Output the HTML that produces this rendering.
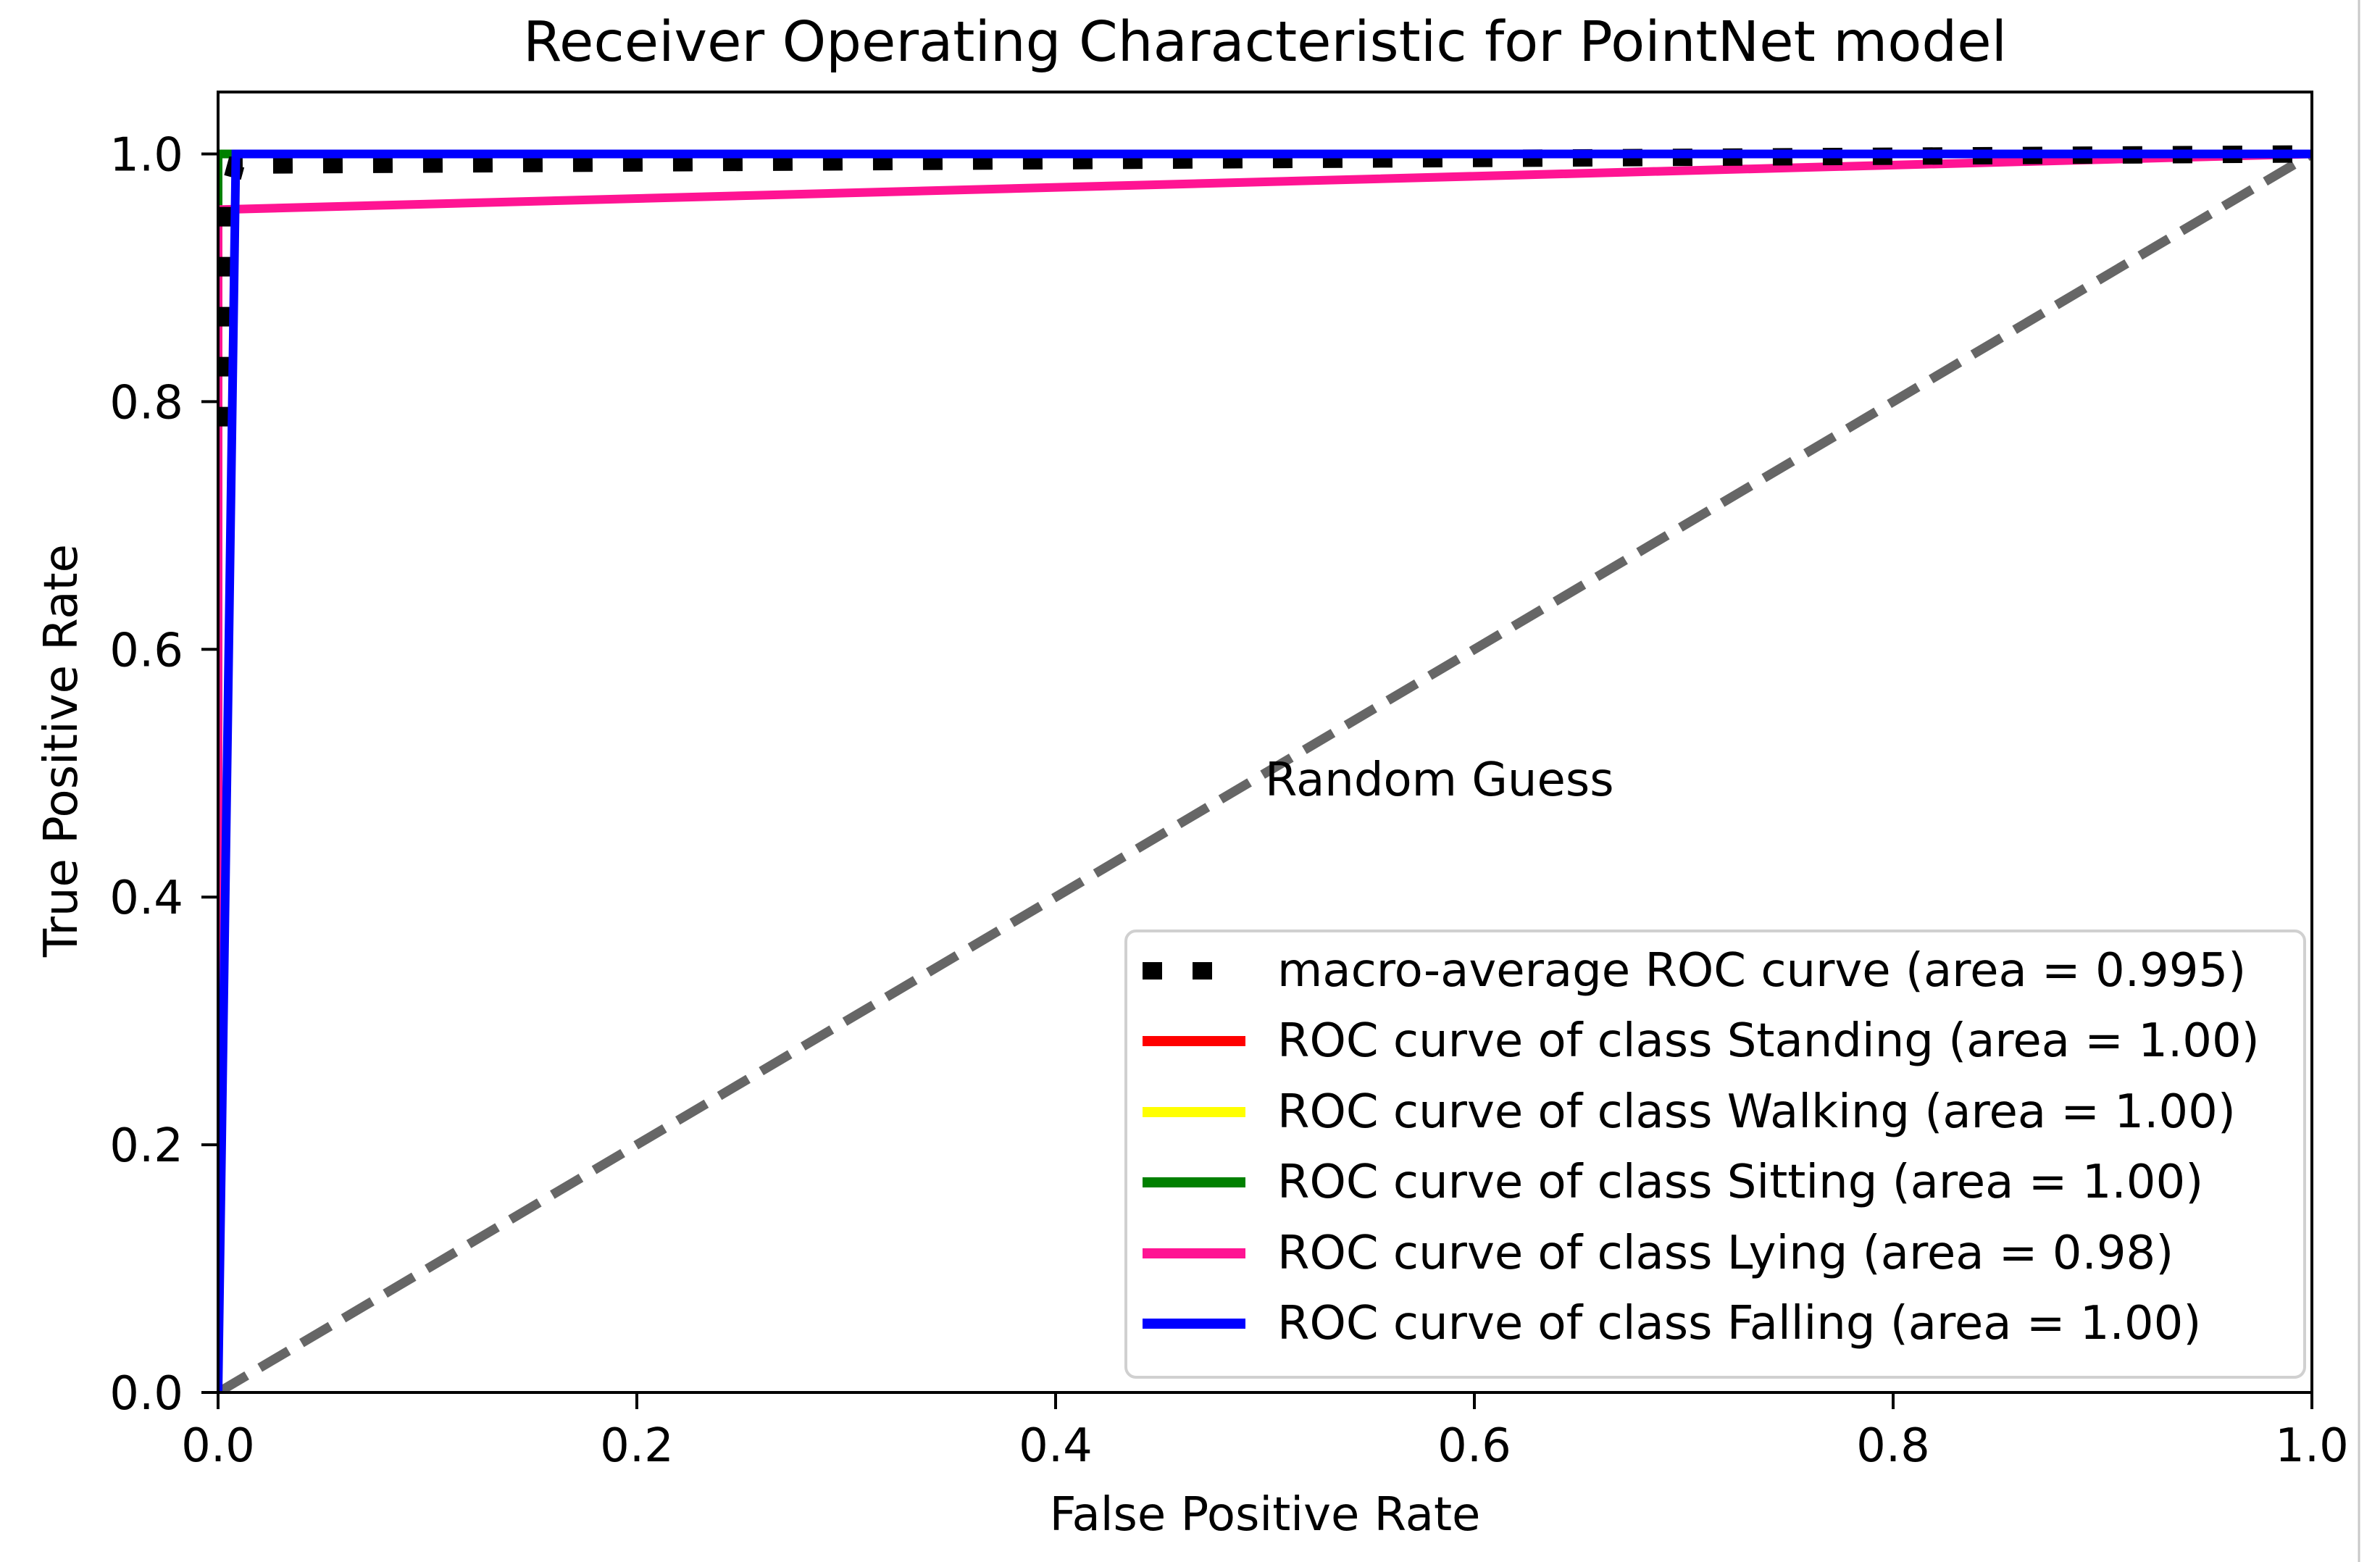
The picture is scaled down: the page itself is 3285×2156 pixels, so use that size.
<!DOCTYPE html>
<html><head><meta charset="utf-8"><style>
html,body{margin:0;padding:0;background:#fff;width:3285px;height:2156px;overflow:hidden}
svg{display:block}
text{font-family:"DejaVu Sans","Liberation Sans",sans-serif;fill:#000}
</style></head><body>
<svg id="chart" width="3285" height="2156" viewBox="0 0 3285 2156" xmlns="http://www.w3.org/2000/svg">
<rect x="0" y="0" width="3285" height="2156" fill="#fff"/>
<line x1="3256" y1="0" x2="3256" y2="2156" stroke="#c8c8c8" stroke-width="3"/>
<g id="plot"></g>
</svg>
<script>
const xTicks = [0, 0.2, 0.4, 0.6, 0.8, 1.0];
const xTickLabels = ["0.0", "0.2", "0.4", "0.6", "0.8", "1.0"];
const yTicks = [0, 0.2, 0.4, 0.6, 0.8, 1.0];
const yTickLabels = ["0.0", "0.2", "0.4", "0.6", "0.8", "1.0"];
const diagX = [0, 1];
const diagY = [0, 1];
const standingX = [0, 0, 1];
const standingY = [0, 1, 1];
const walkingX = [0, 0, 1];
const walkingY = [0, 1, 1];
const sittingX = [0, 0, 1];
const sittingY = [0, 1, 1];
const lyingX = [0, 0, 1];
const lyingY = [0, 0.955, 1];
const fallingX = [0, 0.0085, 1];
const fallingY = [0, 1, 1];
const macroX = [0.0035, 0.0035, 0.0085, 1];
const macroY = [0.78, 0.96, 0.991, 1];
const legendLabels = ["macro-average ROC curve (area = 0.995)","ROC curve of class Standing (area = 1.00)","ROC curve of class Walking (area = 1.00)","ROC curve of class Sitting (area = 1.00)","ROC curve of class Lying (area = 0.98)","ROC curve of class Falling (area = 1.00)"];

const L=301,R=3191,B=1922,T=127;
const X=v=>L+v*(R-L)/1.0;
const Y=v=>B-v*(B-T)/1.05;
const NS="http://www.w3.org/2000/svg";
const g=document.getElementById('plot');
function mk(tag,attrs,parent){const e=document.createElementNS(NS,tag);for(const k in attrs)e.setAttribute(k,attrs[k]);(parent||g).appendChild(e);return e;}
function pts(xs,ys){return xs.map((x,i)=>X(x).toFixed(1)+','+Y(ys[i]).toFixed(1)).join(' ');}

const defs=mk('defs',{});
const cp=mk('clipPath',{id:'clip'},defs);
mk('rect',{x:L,y:T,width:R-L,height:B-T},cp);
const cg=mk('g',{'clip-path':'url(#clip)'});

let e;
e=mk('polyline',{points:pts(diagX,diagY),fill:'none',stroke:'#666','stroke-width':13,'stroke-dasharray':'46 21'},cg);


e=mk('polyline',{points:pts(standingX,standingY),fill:'none',stroke:'#ff0000','stroke-width':12},cg);


e=mk('polyline',{points:pts(walkingX,walkingY),fill:'none',stroke:'#ffff00','stroke-width':12},cg);


e=mk('polyline',{points:pts(sittingX,sittingY),fill:'none',stroke:'#008000','stroke-width':12},cg);


e=mk('polyline',{points:pts(lyingX,lyingY),fill:'none',stroke:'#ff1493','stroke-width':12},cg);


e=mk('polyline',{points:pts(macroX,macroY),fill:'none',stroke:'#000','stroke-width':24,'stroke-dasharray':'27 42'},cg);


e=mk('polyline',{points:pts(fallingX,fallingY),fill:'none',stroke:'#0000ff','stroke-width':12},cg);



e=mk('text',{x:X(0.5),y:Y(0.482),'font-size':64});
e.textContent='Random Guess';



e=mk('rect',{x:L,y:T,width:R-L,height:B-T,fill:'none',stroke:'#000','stroke-width':4});



xTicks.forEach((v,i)=>{
  const t=mk('line',{x1:X(v),y1:B,x2:X(v),y2:B+23,stroke:'#000','stroke-width':4});
  
  
  const l=mk('text',{x:X(v),y:2017,'font-size':64,'text-anchor':'middle'});
  l.textContent=xTickLabels[i];
  
  
});
yTicks.forEach((v,i)=>{
  const t=mk('line',{x1:L-23,y1:Y(v),x2:L,y2:Y(v),stroke:'#000','stroke-width':4});
  
  
  const l=mk('text',{x:253,y:Y(v)+23,'font-size':64,'text-anchor':'end'});
  l.textContent=yTickLabels[i];
  
  
});

e=mk('text',{x:(L+R)/2,y:2112,'font-size':64,'text-anchor':'middle'});
e.textContent='False Positive Rate';


e=mk('text',{x:0,y:0,'font-size':64,'text-anchor':'middle',transform:'translate(106,1036) rotate(-90)'});
e.textContent='True Positive Rate';


e=mk('text',{x:(L+R)/2,y:84,'font-size':77,'text-anchor':'middle'});
e.textContent='Receiver Operating Characteristic for PointNet model';



const lg=mk('g',{});


mk('rect',{x:1554,y:1285,width:1627,height:616,rx:14,fill:'#fff','fill-opacity':0.85,stroke:'#d0d0d0','stroke-width':4},lg);
const colors=['#000','#ff0000','#ffff00','#008000','#ff1493','#0000ff'];
const rows=[1340,1437,1535,1632,1730,1827];
legendLabels.forEach((s,i)=>{
  const h=mk('line',{x1:1577,y1:rows[i],x2:1719,y2:rows[i],stroke:colors[i],'stroke-width':i===0?24:14,'stroke-dasharray':i===0?'27 42 27 200':'none'},lg);
  
  
  const t=mk('text',{x:1763,y:rows[i]+21,'font-size':64},lg);
  t.textContent=s;
  
  
});
</script>
</body></html>
